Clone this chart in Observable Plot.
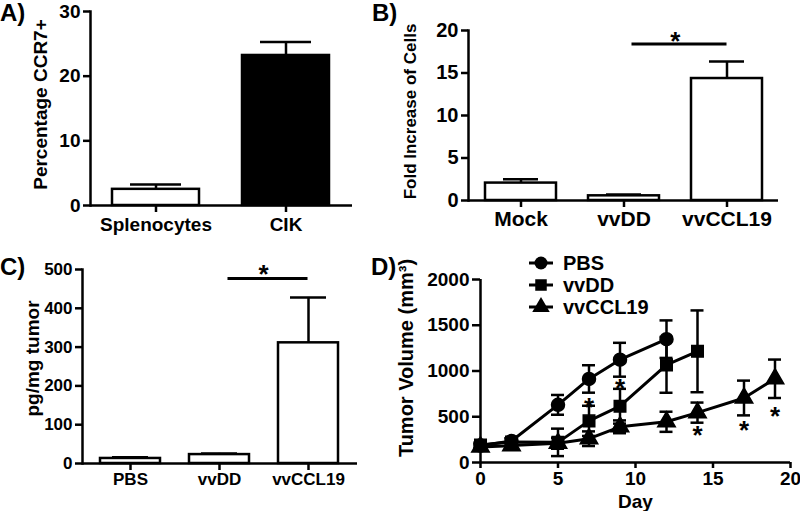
<!DOCTYPE html>
<html><head><meta charset="utf-8">
<script src="https://cdn.jsdelivr.net/npm/d3@7"></script>
<script src="https://cdn.jsdelivr.net/npm/@observablehq/plot@0.6"></script>
<style>
body{margin:0;background:#fff;}
#fig{position:relative;width:800px;height:511px;overflow:hidden;background:#fff;
  font-family:"Liberation Sans",Arial,Helvetica,sans-serif;font-weight:bold;color:#000;}
.panel{position:absolute;}
.panel svg{overflow:visible;}
.panel svg text{font-weight:bold;}
.tag{position:absolute;font-size:24px;font-weight:bold;line-height:1;}
</style></head><body><div id="fig"></div>
<script>
// ---------- Panel A ----------
const catsA = ["Splenocytes", "CIK"];
const valsA = [2.5, 23.2];
const errA = [0.75, 2.1];
const fillA = ["white", "black"];
const ticksA = [0, 10, 20, 30];
// ---------- Panel B ----------
const catsB = ["Mock", "vvDD", "vvCCL19"];
const valsB = [2.05, 0.55, 14.35];
const errB = [0.45, 0.15, 2.0];
const fillB = ["white", "white", "white"];
const ticksB = [0, 5, 10, 15, 20];
const sigB = [{from: "vvDD", to: "vvCCL19", y: 18.4, star: 19.5}];
// ---------- Panel C ----------
const catsC = ["PBS", "vvDD", "vvCCL19"];
const valsC = [13, 23, 311];
const errC = [3, 3, 117];
const fillC = ["white", "white", "white"];
const ticksC = [0, 100, 200, 300, 400, 500];
const sigC = [{from: "vvDD", to: "vvCCL19", y: 477, star: 506}];
// ---------- Panel D ----------
const seriesD = ["PBS", "vvDD", "vvCCL19"];
const symbolsD = ["circle", "square", "triangle"];
const daysPBS = [0, 2, 5, 7, 9, 12];
const volPBS = [185, 235, 630, 913, 1123, 1348];
const semPBS = [25, 30, 108, 150, 185, 205];
const daysVVDD = [0, 2, 5, 7, 9, 12, 14];
const volVVDD = [190, 225, 220, 455, 615, 1067, 1215];
const semVVDD = [30, 40, 150, 165, 190, 305, 447];
const daysCCL19 = [0, 2, 5, 7, 9, 12, 14, 17, 19];
const volCCL19 = [170, 185, 210, 260, 390, 445, 545, 705, 915];
const semCCL19 = [30, 30, 60, 80, 70, 110, 110, 190, 210];
const starDays = [7, 9, 14, 17, 19];
const starVals = [678, 878, 368, 423, 576];
const ticksDx = [0, 5, 10, 15, 20];
const ticksDy = [0, 500, 1000, 1500, 2000];

const FONT = '"Liberation Sans", Arial, Helvetica, sans-serif';
const fig = document.getElementById("fig");
const SW = 2.5;

function place(node, left, top) {
  const d = document.createElement("div");
  d.className = "panel";
  d.style.left = left + "px";
  d.style.top = top + "px";
  d.appendChild(node);
  fig.appendChild(d);
}
function tag(text, left, top) {
  const d = document.createElement("div");
  d.className = "tag";
  d.style.left = left + "px";
  d.style.top = top + "px";
  d.textContent = text;
  fig.appendChild(d);
}
function yTitle(label, fontSize, dx, dy) {
  return Plot.text([label], {frameAnchor: "left", rotate: -90, text: (d) => d, fontSize,
    fontWeight: "bold", textAnchor: "middle", lineAnchor: "middle", dx, dy, fill: "black"});
}

function barPanel(o) {
  const data = o.cats.map((c, i) => ({c, v: o.vals[i], hi: o.vals[i] + o.errs[i], fill: o.fills[i]}));
  const [mt, mr, mb, ml] = o.margins;
  const xs = Plot.scale({x: {type: "band", domain: o.cats, range: [ml, o.width - mr],
    paddingInner: o.pIn, paddingOuter: o.pOut}});
  const bw = xs.bandwidth, step = xs.step;
  const marks = [
    Plot.barY(data, {x: "c", y: "v", fill: "fill", stroke: "black", strokeWidth: SW}),
    Plot.ruleX(data, {x: "c", y1: "v", y2: "hi", stroke: "black", strokeWidth: SW}),
    Plot.tickY(data, {x: "c", y: "hi", stroke: "black", strokeWidth: SW, inset: o.capInset}),
    Plot.ruleY([0], {stroke: "black", strokeWidth: SW}),
    Plot.frame({anchor: "left", stroke: "black", strokeWidth: SW}),
    Plot.axisY({ticks: o.yTicks, tickSize: 7, tickPadding: 3, strokeWidth: SW, fontSize: o.yFs,
      fontWeight: "bold", label: null}),
    Plot.axisX({tickSize: 7, tickPadding: o.xPad, strokeWidth: SW, fontSize: o.xFs,
      fontWeight: "bold", label: null}),
    yTitle(o.label, o.titleFs, o.titleDx, o.titleDy)
  ];
  if (o.sig) {
    marks.push(Plot.ruleY(o.sig, {x1: "from", x2: "to", y: "y", stroke: "black", strokeWidth: 3,
      insetLeft: bw / 2 + 8, insetRight: bw / 2}));
    marks.push(Plot.text(o.sig, {x: "to", y: "star", text: () => "*", fontSize: 26, fontWeight: "bold",
      dx: -step / 2, dy: 7}));
  }
  return Plot.plot({
    width: o.width, height: o.height,
    marginTop: mt, marginRight: mr, marginBottom: mb, marginLeft: ml,
    style: {fontFamily: FONT, fontWeight: "bold", color: "black", background: "white"},
    x: {type: "band", domain: o.cats, paddingInner: o.pIn, paddingOuter: o.pOut, label: null},
    y: {domain: o.yDomain, label: null},
    color: {type: "identity"},
    marks
  });
}

place(barPanel({cats: catsA, vals: valsA, errs: errA, fills: fillA, yTicks: ticksA, yDomain: [0, 30],
  label: "Percentage CCR7+", width: 400, height: 255, margins: [11, 48, 50, 90],
  pIn: 0.327, pOut: 0.171, capInset: 18, titleDx: -50, titleDy: -4,
  yFs: 19, xFs: 19, titleFs: 19, xPad: 5}), 0, 0);

place(barPanel({cats: catsB, vals: valsB, errs: errB, fills: fillB, yTicks: ticksB, yDomain: [0, 20],
  label: "Fold Increase of Cells", width: 400, height: 255, margins: [30, 22, 55, 68],
  pIn: 0.314, pOut: 0.155, capInset: 18, titleDx: -58, titleDy: -4,
  yFs: 20, xFs: 21, titleFs: 17, xPad: 4, sig: sigB}), 400, 0);

place(barPanel({cats: catsC, vals: valsC, errs: errC, fills: fillC, yTicks: ticksC, yDomain: [0, 500],
  label: "pg/mg tumor", width: 400, height: 256, margins: [14, 43, 48, 82],
  pIn: 0.322, pOut: 0.19, capInset: 12, titleDx: -50, titleDy: -8,
  yFs: 17, xFs: 17, titleFs: 19, xPad: 2, sig: sigC}), 0, 255);

// ---------- Panel D (line chart) ----------
function rows(name, days, vols, sems) {
  return days.map((d, i) => ({series: name, day: d, v: vols[i], lo: vols[i] - sems[i], hi: vols[i] + sems[i]}));
}
const dataD = [
  ...rows("PBS", daysPBS, volPBS, semPBS),
  ...rows("vvDD", daysVVDD, volVVDD, semVVDD),
  ...rows("vvCCL19", daysCCL19, volCCL19, semCCL19)
];
const starsD = starDays.map((d, i) => ({day: d, v: starVals[i]}));

const plotD = Plot.plot({
  width: 400, height: 256,
  marginTop: 24, marginRight: 10, marginBottom: 49, marginLeft: 80,
  style: {fontFamily: FONT, fontWeight: "bold", color: "black", background: "white"},
  x: {domain: [0, 20], label: null},
  y: {domain: [0, 2000], label: null},
  symbol: {domain: seriesD, range: symbolsD},
  marks: [
    Plot.ruleX(dataD, {x: "day", y1: "lo", y2: "hi", stroke: "black", strokeWidth: SW}),
    Plot.ruleY(dataD, {x1: "day", x2: "day", y: "hi", stroke: "black", strokeWidth: SW, insetLeft: -6.5, insetRight: -6.5}),
    Plot.ruleY(dataD, {x1: "day", x2: "day", y: "lo", stroke: "black", strokeWidth: SW, insetLeft: -6.5, insetRight: -6.5}),
    Plot.line(dataD, {x: "day", y: "v", z: "series", stroke: "black", strokeWidth: 3}),
    Plot.dot(dataD, {x: "day", y: "v", symbol: "series", fill: "black", stroke: "black", r: 6.5}),
    Plot.text(starsD, {x: "day", y: "v", text: () => "*", fontSize: 26, fontWeight: "bold", dy: 7}),
    Plot.ruleX([0], {stroke: "black", strokeWidth: SW}),
    Plot.ruleY([0], {stroke: "black", strokeWidth: SW}),
    Plot.axisY({ticks: ticksDy, tickFormat: "d", tickSize: 8, tickPadding: 3, strokeWidth: SW,
      fontSize: 19, fontWeight: "bold", label: null}),
    Plot.axisX({ticks: ticksDx, tickFormat: "d", tickSize: 6, tickPadding: 3, strokeWidth: SW,
      fontSize: 19, fontWeight: "bold", label: null}),
    Plot.axisX({ticks: [], label: "Day", labelAnchor: "center", labelArrow: "none",
      labelOffset: 45, fontSize: 19, fontWeight: "bold"}),
    yTitle("Tumor Volume (mm³)", 20, -74, -13)
  ]
});
place(plotD, 400, 255);

// Legend for panel D
const leg = d3.create("svg").attr("width", 160).attr("height", 70)
  .style("font-family", FONT).style("font-weight", "bold");
seriesD.forEach((s, i) => {
  const g = leg.append("g").attr("transform", `translate(0,${8 + i * 22})`);
  g.append("line").attr("x1", 9).attr("x2", 33).attr("y1", 0).attr("y2", 0)
    .attr("stroke", "black").attr("stroke-width", 3);
  const sym = [d3.symbolCircle, d3.symbolSquare, d3.symbolTriangle][i];
  g.append("path").attr("d", d3.symbol(sym, Math.PI * 6.5 * 6.5)()).attr("transform", "translate(21,0)")
    .attr("fill", "black");
  g.append("text").attr("x", 43).attr("y", 0).attr("dy", "0.35em").attr("font-size", 20).text(s);
});
place(leg.node(), 520, 255);

// Panel tags
tag("A)", 0, 1);
tag("B)", 372, 1);
tag("C)", 0, 255);
tag("D)", 371, 255);
</script>
</body></html>
